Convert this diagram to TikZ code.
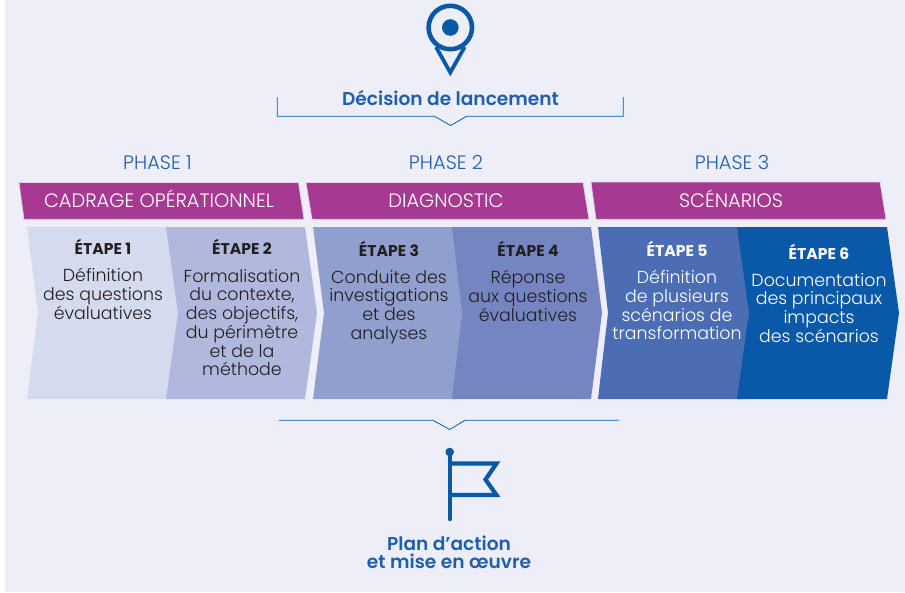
\documentclass[tikz,border=0pt]{standalone}
\usepackage{fontspec}
\setmainfont{Poppins}[UprightFont=* Light,BoldFont=* SemiBold]
\newfontfamily\headfont{Poppins}[UprightFont=* Bold]
\definecolor{pagebg}{HTML}{EDEEF8}
\definecolor{brandblue}{HTML}{0959A8}
\definecolor{textblue}{HTML}{1F5FAE}
\definecolor{magentaband}{HTML}{A63A92}
\definecolor{bandedge}{HTML}{E3CDE8}
\definecolor{darktext}{HTML}{231F20}
\definecolor{stepa}{HTML}{D5DBEE}
\definecolor{stepb}{HTML}{B0B9DD}
\definecolor{stepc}{HTML}{919FCF}
\definecolor{stepd}{HTML}{7585C1}
\definecolor{stepe}{HTML}{4A6DB4}
\definecolor{stepf}{HTML}{0959A8}
\tikzset{
  band/.style={fill=magentaband,draw=bandedge,line width=.7pt},
  bracketline/.style={draw=brandblue,line width=.8pt},
  icon/.style={draw=brandblue,line width=4.6pt},
  bandtext/.style={text=white,inner sep=0pt,anchor=base,font=\fontsize{19.4}{20}\selectfont},
  phasetext/.style={text=textblue,inner sep=0pt,anchor=base,font=\fontsize{19.4}{20}\selectfont},
  headdark/.style={text=darktext,inner sep=0pt,font=\headfont\fontsize{15.6}{18}\selectfont},
  headlight/.style={headdark,text=white},
  bodydark/.style={text=darktext,inner sep=0pt,align=center,anchor=north,font=\fontsize{17.4}{18.7}\selectfont},
  bodylight/.style={bodydark,text=white},
  titletext/.style={text=textblue,inner sep=0pt,align=center,font=\fontsize{18.6}{18.2}\bfseries\selectfont},
}
\begin{document}
\begin{tikzpicture}[x=1pt,y=-1pt]
\useasboundingbox (0,0) rectangle (905,592);
\fill[white] (0,0) rectangle (905,592);
\fill[pagebg] (5,0) rectangle (905,592);
% pin
\draw[icon,line width=3.8pt,line join=miter] (436,47) -- (450.3,72.5) -- (464.6,47);
\draw[icon,fill=pagebg] (450.3,27.5) circle (21.7);
\fill[brandblue] (450.3,27.5) circle (8.3);
\node[titletext] (launch) at (450.5,98) {Décision de lancement};
\draw[bracketline] (277.3,97) -- (277.3,116.3) -- (434.5,116.3) -- (450.7,125.5) -- (466.5,116.3) -- (623.3,116.3) -- (623.3,97);
% phases
\node[phasetext] (ph1) at (157.5,169.5) {PHASE 1};
\node[phasetext] (ph2) at (446,169.5) {PHASE 2};
\node[phasetext] (ph3) at (732,169.5) {PHASE 3};
\draw[band] (19,182.5) -- (298.5,182.5) -- (304,219.3) -- (24,219.3) -- cycle;
\draw[band] (306,182.5) -- (583,182.5) -- (589,219.3) -- (312,219.3) -- cycle;
\draw[band] (591,182) -- (880,182) -- (886,219.3) -- (596,219.3) -- cycle;
\node[bandtext] (b1) at (159,207.5) {CADRAGE OPÉRATIONNEL};
\node[bandtext] (b2) at (446,207.5) {DIAGNOSTIC};
\node[bandtext] (b3) at (731,207.5) {SCÉNARIOS};
% chevrons
\fill[stepa] (27,227) -- (170,227) -- (178,313) -- (170,399) -- (27,399) -- (38,313) -- cycle;
\fill[stepb] (166,227) -- (305,227) -- (317,313) -- (305,399) -- (166,399) -- (178,313) -- cycle;
\fill[stepc] (313,227) -- (456,227) -- (462,313) -- (456,399) -- (313,399) -- (324,313) -- cycle;
\fill[stepd] (452,227) -- (591,227) -- (602,313) -- (591,399) -- (452,399) -- (462,313) -- cycle;
\fill[stepe] (598,227) -- (742,227) -- (749,313) -- (742,399) -- (598,399) -- (608,313) -- cycle;
\fill[stepf] (737,227) -- (887,227) -- (899,313) -- (887,399) -- (737,399) -- (749,313) -- cycle;
% steps
\node[headdark] (h1) at (103,247.3) {ÉTAPE 1};
\node[headdark] (h2) at (242,247.3) {ÉTAPE 2};
\node[headdark] (h3) at (389,249.3) {ÉTAPE 3};
\node[headdark] (h4) at (528,249.3) {ÉTAPE 4};
\node[headlight] (h5) at (677,249.3) {ÉTAPE 5};
\node[headlight] (h6) at (819,252.3) {ÉTAPE 6};
\node[bodydark] (t1) at (103,268) {Définition\\des questions\\évaluatives};
\node[bodydark] (t2) at (242,269) {Formalisation\\du contexte,\\des objectifs,\\du périmètre\\et de la\\méthode};
\node[bodydark] (t3) at (389,270) {Conduite des\\investigations\\et des\\analyses};
\node[bodydark] (t4) at (528,270) {Réponse\\aux questions\\évaluatives};
\node[bodylight] (t5) at (677,270) {Définition\\de plusieurs\\scénarios de\\transformation};
\node[bodylight] (t6) at (819,273) {Documentation\\des principaux\\impacts\\des scénarios};
% lower bracket
\draw[bracketline] (279,420.3) -- (433,420.3) -- (449.7,429.5) -- (465,420.3) -- (619,420.3);
% flag
\draw[icon,line width=4.4pt,line cap=round] (449.7,452) -- (449.7,519);
\fill[brandblue] (449.7,452) circle (4.3);
\draw[icon,line width=4.2pt,line join=miter] (449.7,463.5) -- (496.5,463.5) -- (485.5,479.5) -- (496.5,495) -- (449.7,495);
\node[titletext] (plan) at (449,552) {Plan d’action\\et mise en œuvre};
\end{tikzpicture}
\end{document}
